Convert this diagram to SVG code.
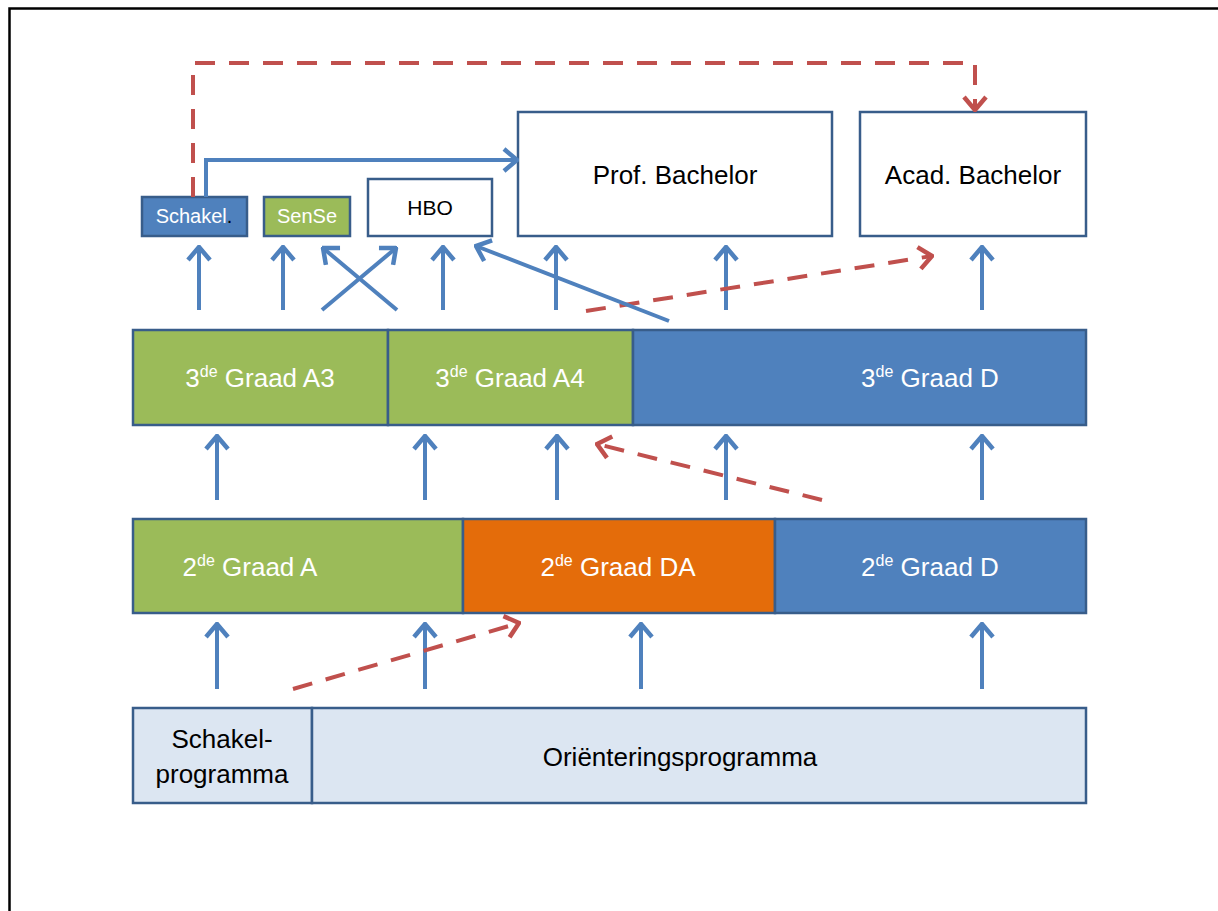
<svg xmlns="http://www.w3.org/2000/svg" width="1218" height="911" viewBox="0 0 1218 911">
<style>
text{font-family:"Liberation Sans",Arial,sans-serif;text-anchor:middle}
.box{stroke:#385D8A;stroke-width:2.5}
.blue{fill:#4F81BD}.green{fill:#9BBB59}.orange{fill:#E46C0A}.light{fill:#DCE6F2}.white{fill:#FFFFFF}
.wt{fill:#FFFFFF;font-size:26px}.bt{fill:#000000;font-size:26px}
.arr{fill:none;stroke:#4F81BD;stroke-width:4;marker-end:url(#ab)}
.dash{fill:none;stroke:#C0504D;stroke-width:4;stroke-dasharray:20 14;marker-end:url(#ar)}
</style>
<defs>
<marker id="ab" markerUnits="userSpaceOnUse" viewBox="0 0 17 26" markerWidth="17" markerHeight="26" refX="15" refY="13" orient="auto">
<path d="M2,2 L15,13 L2,24" fill="none" stroke="#4F81BD" stroke-width="4.5"/>
</marker>
<marker id="ar" markerUnits="userSpaceOnUse" viewBox="0 0 17 26" markerWidth="17" markerHeight="26" refX="15" refY="13" orient="auto">
<path d="M2,2 L15,13 L2,24" fill="none" stroke="#C0504D" stroke-width="4.5"/>
</marker>
</defs>
<rect x="0" y="0" width="1218" height="911" fill="#FFFFFF"/>
<path d="M9.5,911 V8.5 H1218" fill="none" stroke="#000" stroke-width="2.5"/>

<g id="schakel">
<rect class="box blue" x="142" y="197" width="105" height="39"/>
<text x="194" y="223" style="font-size:20px"><tspan fill="#FFFFFF">Schakel</tspan><tspan fill="#000">.</tspan></text>
</g>
<g id="sense">
<rect class="box green" x="264" y="197" width="86" height="39"/>
<text x="307" y="223" fill="#FFFFFF" style="font-size:20px">SenSe</text>
</g>
<g id="hbo">
<rect class="box white" x="368" y="179" width="124" height="57"/>
<text x="430" y="215" fill="#000" style="font-size:21px">HBO</text>
</g>
<g id="profbachelor">
<rect class="box white" x="518" y="112" width="314" height="124"/>
<text class="bt" x="675" y="184">Prof. Bachelor</text>
</g>
<g id="acadbachelor">
<rect class="box white" x="860" y="112" width="226" height="124"/>
<text class="bt" x="973" y="184">Acad. Bachelor</text>
</g>

<g id="graad3a3">
<rect class="box green" x="133" y="330" width="255" height="95"/>
<text class="wt" x="260" y="387">3<tspan font-size="16" dy="-10">de</tspan><tspan dy="10"> Graad A3</tspan></text>
</g>
<g id="graad3a4">
<rect class="box green" x="388" y="330" width="245" height="95"/>
<text class="wt" x="510" y="387">3<tspan font-size="16" dy="-10">de</tspan><tspan dy="10"> Graad A4</tspan></text>
</g>
<g id="graad3d">
<rect class="box blue" x="633" y="330" width="453" height="95"/>
<text class="wt" x="930" y="387">3<tspan font-size="16" dy="-10">de</tspan><tspan dy="10"> Graad D</tspan></text>
</g>

<g id="graad2a">
<rect class="box green" x="133" y="519" width="330" height="94"/>
<text class="wt" x="250" y="576">2<tspan font-size="16" dy="-10">de</tspan><tspan dy="10"> Graad A</tspan></text>
</g>
<g id="graad2da">
<rect class="box orange" x="463" y="519" width="312" height="94"/>
<text class="wt" x="618" y="576">2<tspan font-size="16" dy="-10">de</tspan><tspan dy="10"> Graad DA</tspan></text>
</g>
<g id="graad2d">
<rect class="box blue" x="775" y="519" width="311" height="94"/>
<text class="wt" x="930" y="576">2<tspan font-size="16" dy="-10">de</tspan><tspan dy="10"> Graad D</tspan></text>
</g>

<g id="schakelprogramma">
<rect class="box light" x="133" y="708" width="179" height="95"/>
<text class="bt" x="222" y="748">Schakel-</text>
<text class="bt" x="222" y="783">programma</text>
</g>
<g id="orienteringsprogramma">
<rect class="box light" x="312" y="708" width="774" height="95"/>
<text class="bt" x="680" y="766">Oriënteringsprogramma</text>
</g>

<g id="connectors">
<path class="dash" d="M193,197 V63 H975 V110"/>
<path class="arr" d="M206,197 V160 H517"/>
<path class="arr" d="M199,310 V247"/>
<path class="arr" d="M283,310 V247"/>
<path class="arr" d="M322,310 L396,248"/>
<path class="arr" d="M397,310 L323,248"/>
<path class="arr" d="M443,310 V247"/>
<path class="arr" d="M556,310 V247"/>
<path class="arr" d="M726,310 V247"/>
<path class="arr" d="M982,310 V247"/>
<path class="dash" d="M586,311 L932,256"/>
<path class="arr" d="M669,321 L476,246"/>

<path class="arr" d="M217,500 V436"/>
<path class="arr" d="M425,500 V436"/>
<path class="arr" d="M557,500 V436"/>
<path class="arr" d="M726,500 V436"/>
<path class="arr" d="M982,500 V436"/>
<path class="dash" d="M822,500 L597,444"/>

<path class="arr" d="M217,689 V624"/>
<path class="arr" d="M425,689 V624"/>
<path class="arr" d="M641,689 V624"/>
<path class="arr" d="M982,689 V624"/>
<path class="dash" d="M293,689 L519,623"/>
</g>
</svg>
